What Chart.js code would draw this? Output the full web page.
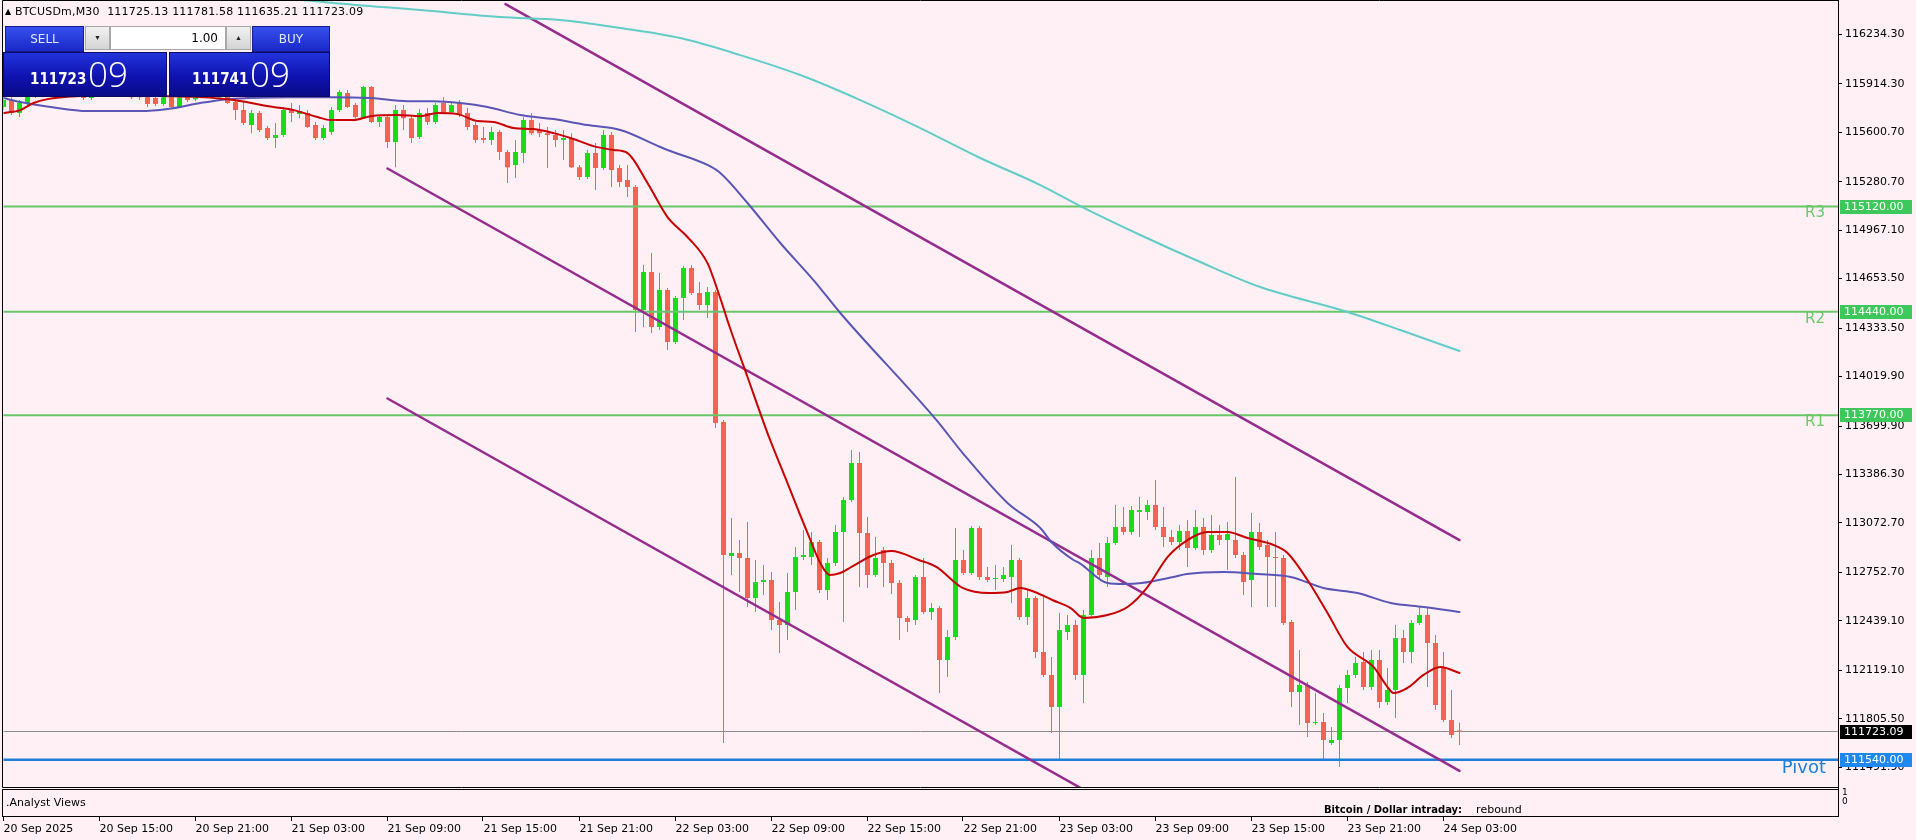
<!DOCTYPE html>
<html><head><meta charset="utf-8">
<script src="https://cdn.jsdelivr.net/npm/chart.js@4.4.1/dist/chart.umd.min.js"></script>
<style>
html,body{margin:0;padding:0;background:#FFF0F5;overflow:hidden;}
#wrap{position:relative;width:1916px;height:840px;}
#c{position:absolute;left:0;top:0;}
#hdr{position:absolute;left:5px;top:5px;font:11px 'DejaVu Sans',sans-serif;color:#000;white-space:pre;line-height:14px;letter-spacing:0.2px;}
#hdr .tri{font-size:8px;vertical-align:1px;}
.p{position:absolute;box-sizing:border-box;}
.btn{background:linear-gradient(#3550ee,#1b28c8);color:#dfe8ff;font:12px 'DejaVu Sans',sans-serif;text-align:center;line-height:25px;border:1px solid #1a1a90;}
.spin{background:linear-gradient(#f2f2f2,#d4d4d4);border:1px solid #a8a8a8;font-size:7px;text-align:center;line-height:22px;color:#222;}
.lot{background:#fff;border:1px solid #a8a8a8;font:12px 'DejaVu Sans',sans-serif;text-align:right;padding-right:7px;line-height:22px;color:#000;}
.pbox{background:linear-gradient(#2233dc,#0f12b0 55%,#0a0a86);border:1px solid #0a0a60;color:#fff;}
.pbox .s{position:absolute;bottom:8px;font:bold 15px 'DejaVu Sans Condensed','DejaVu Sans',sans-serif;}
.pbox .b{position:absolute;bottom:5px;font:300 35px 'Open Sans',sans-serif;line-height:35px;}
</style></head>
<body><div id="wrap">
<canvas id="c" width="1916" height="840"></canvas>
<div id="hdr"><span class="tri">▲</span> BTCUSDm,M30  111725.13 111781.58 111635.21 111723.09</div>
<div class="p btn" style="left:5px;top:26px;width:79px;height:26px;">SELL</div>
<div class="p spin" style="left:85px;top:26px;width:25px;height:24px;">▼</div>
<div class="p lot" style="left:110px;top:26px;width:116px;height:24px;">1.00</div>
<div class="p spin" style="left:226px;top:26px;width:25px;height:24px;">▲</div>
<div class="p btn" style="left:252px;top:26px;width:78px;height:26px;">BUY</div>
<div class="p pbox" style="left:3px;top:52px;width:164px;height:45px;"><span class="s" style="left:26px;">111723</span><span class="b" style="left:84px;">09</span></div>
<div class="p pbox" style="left:169px;top:52px;width:161px;height:45px;"><span class="s" style="left:22px;">111741</span><span class="b" style="left:80px;">09</span></div>
</div>
<script>
// ---- data (M30 bars, bar 0 = 20 Sep 09:00) ----
const timeLabels = ['20 Sep 2025','20 Sep 15:00','20 Sep 21:00','21 Sep 03:00','21 Sep 09:00','21 Sep 15:00','21 Sep 21:00','22 Sep 03:00','22 Sep 09:00','22 Sep 15:00','22 Sep 21:00','23 Sep 03:00','23 Sep 09:00','23 Sep 15:00','23 Sep 21:00','24 Sep 03:00'];
const timeTickBars = [0,12,24,36,48,60,72,84,96,108,120,132,144,156,168,180];
const priceTicks = [116234.30,115914.30,115600.70,115280.70,114967.10,114653.50,114333.50,114019.90,113699.90,113386.30,113072.70,112752.70,112439.10,112119.10,111805.50,111491.90];

const opens = [115764,115809,115725,115790,115835,115874,115841,115887,115854,115900,115848,115822,115874,115900,115854,115900,115861,115828,115835,115822,115783,115828,115764,115841,115815,115841,115874,115828,115835,115796,115744,115647,115725,115628,115563,115583,115751,115718,115725,115647,115563,115602,115744,115854,115777,115699,115893,115667,115699,115537,115744,115692,115570,115725,115667,115790,115731,115790,115725,115647,115563,115550,115602,115473,115388,115466,115680,115615,115595,115583,115550,115563,115375,115311,115466,115369,115583,115369,115291,115246,114450,114696,114340,114580,114243,114528,114722,114560,114483,114567,113726,112859,112878,112846,112587,112690,112703,112445,112412,112626,112852,112852,112949,112639,112813,113014,113221,113460,113008,112736,112898,112813,112684,112458,112445,112723,112496,112522,112186,112335,112833,112749,113040,112723,112710,112710,112723,112833,112464,112587,112238,112089,111882,112367,112412,112089,112477,112846,112723,112943,113046,113014,113143,113143,113189,113046,112982,112949,113020,112910,113046,112898,112995,112962,112962,112865,112703,113014,112930,112852,112846,112432,111979,112024,111778,111785,111649,111668,112005,112089,112173,112011,112186,111914,111992,112328,112238,112425,112477,112296,112134,111798,111725.13];
const highs = [115822,115828,115809,115861,115887,115900,115900,115900,115912,115912,115861,115887,115912,115912,115912,115912,115874,115861,115848,115841,115841,115841,115841,115854,115861,115887,115887,115874,115854,115822,115796,115744,115738,115641,115660,115764,115790,115777,115744,115667,115647,115764,115874,115874,115790,115900,115900,115712,115712,115777,115777,115705,115751,115757,115790,115828,115796,115809,115757,115667,115634,115634,115615,115486,115550,115699,115725,115660,115634,115615,115615,115595,115388,115486,115531,115615,115602,115388,115388,115259,114741,114819,114690,114593,114541,114735,114741,114631,114599,114580,113739,113105,112962,113079,112833,112800,112755,112561,112749,112917,113027,113014,112962,112846,113059,113240,113544,113532,113111,112982,112917,112833,112703,112470,112736,112846,112555,112535,112380,113040,112898,113053,113053,112788,112800,112788,112930,112846,112639,112600,112593,112205,112490,112477,112445,112509,112898,112943,112982,113189,113176,113182,113240,113221,113350,113176,113027,113059,113092,113156,113105,113124,113059,113079,113370,112885,113137,113072,112962,113014,112865,112445,112251,112043,111972,111843,111752,112024,112121,112205,112238,112251,112251,112134,112412,112380,112445,112529,112529,112348,112238,111992,111781.58];
const lows = [115744,115712,115699,115777,115822,115828,115828,115841,115841,115835,115809,115809,115861,115841,115841,115848,115815,115809,115764,115770,115770,115757,115757,115796,115802,115828,115822,115815,115783,115680,115647,115595,115602,115550,115498,115570,115667,115692,115628,115550,115550,115583,115731,115757,115692,115692,115660,115634,115498,115375,115615,115531,115557,115647,115654,115718,115718,115699,115615,115531,115531,115518,115421,115272,115304,115401,115583,115570,115369,115505,115421,115369,115291,115298,115227,115356,115246,115246,115181,114308,114340,114301,114321,114191,114230,114386,114547,114450,114399,113687,111649,112736,112626,112529,112496,112606,112380,112231,112315,112509,112833,112800,112619,112574,112794,112432,113208,112658,112652,112723,112658,112613,112315,112367,112412,112483,112445,111972,112076,112315,112736,112736,112703,112690,112639,112690,112555,112445,112412,112199,112076,111714,111539,112315,112056,111908,112458,112703,112658,112930,112995,112995,112982,113092,113027,112917,112930,112898,112788,112898,112865,112878,112930,112768,112846,112606,112529,112898,112529,112529,112412,111882,111765,111688,111765,111539,111636,111494,111908,112069,111992,111992,111875,111895,111811,112166,112166,112412,112011,111862,111785,111681,111635.21];
const closes = [115809,115725,115790,115841,115874,115841,115887,115854,115900,115848,115822,115874,115900,115854,115900,115861,115828,115848,115783,115783,115828,115764,115828,115809,115848,115874,115835,115861,115790,115744,115660,115725,115615,115563,115583,115744,115725,115738,115634,115563,115628,115744,115861,115764,115699,115893,115667,115699,115537,115744,115692,115563,115725,115667,115777,115731,115777,115712,115634,115550,115550,115602,115473,115375,115473,115680,115595,115595,115583,115550,115563,115375,115311,115466,115369,115583,115356,115278,115246,114450,114696,114340,114580,114243,114528,114722,114560,114483,114567,113719,112865,112878,112846,112587,112690,112703,112445,112412,112626,112852,112865,112949,112639,112813,113014,113221,113460,113008,112736,112846,112813,112684,112458,112432,112723,112496,112522,112186,112335,112833,112749,113040,112723,112703,112716,112736,112833,112464,112587,112238,112089,111882,112380,112412,112089,112477,112846,112736,112943,113046,113014,113156,113156,113189,113046,112982,112949,113020,112910,113046,112898,112995,112962,113001,112865,112690,113014,112917,112852,112846,112425,111979,112024,111778,111785,111668,111668,112005,112089,112166,112011,112186,111914,111992,112328,112238,112425,112477,112296,111895,111798,111701,111723.09];

// moving averages: bar positions and prices
const redMaBars   = [0,2.1,3.75,5.5,9.6,14.6,19.6,24.6,28.75,33.75,36.25,39.25,40.9,43.75,45.9,49.25,52.1,54.25,56.75,59.25,61.25,63.75,66.25,68.75,71.25,73.75,76.25,78,80.5,83,85.5,88,89.25,90.9,93,95.5,98,100.5,102.1,103.25,104.6,106,108.75,111,114.4,116.6,119.9,123.25,125.5,127.1,128.9,131.1,133.4,135,138,140.5,143,145.5,148,150.5,153,155.5,158.75,160.5,163,165.5,168,171.25,173,173.75,175.5,177.5,179.6,182];
const redMaPrices = [115725,115744,115790,115815,115835,115841,115835,115828,115809,115764,115744,115699,115680,115680,115705,115712,115705,115725,115718,115673,115667,115628,115621,115595,115557,115511,115486,115466,115272,115052,114923,114754,114580,114321,114017,113654,113331,113008,112813,112736,112749,112788,112865,112891,112833,112788,112652,112619,112626,112652,112626,112574,112522,112458,112477,112529,112658,112852,112962,113014,113014,112975,112930,112878,112703,112490,112270,112141,112011,111972,112005,112089,112141,112102];
const blueMaBars   = [0,2.1,5.9,10.5,14.25,17.1,20.5,24.6,28,30.5,35.9,40.9,45.9,50.5,53.75,57.1,60.5,64.6,68.75,73,77.1,82.1,83,88,89.6,93,97.1,101.25,104.6,116.6,119.9,125.5,129.6,131.1,133.75,134.5,138,140,142.25,146.25,147.9,152.5,156.75,160.9,165,169.25,173.4,177.5,182];
const blueMaPrices = [115822,115796,115764,115738,115738,115738,115751,115790,115815,115822,115828,115828,115822,115802,115802,115790,115764,115712,115686,115647,115615,115505,115486,115389,115337,115143,114884,114644,114431,113739,113525,113202,113040,112943,112833,112813,112684,112678,112684,112723,112742,112755,112742,112723,112652,112619,112555,112529,112496];
const tealMaBars   = [35,41.25,52.1,62.1,69.6,77.1,84.6,92.1,99.6,107.1,114.6,122.1,129.6,134.6,142.1,149.6,157.1,167.6,174.6,182];
const tealMaPrices = [116470,116437,116391,116346,116327,116275,116210,116100,115971,115809,115628,115434,115259,115123,114936,114761,114599,114444,114321,114185];

// trend channel end points [bar, price]
const channelUpper  = [[62.75,116430],[182,112962]];
const channelMiddle = [[48,115366],[182,111468]];
const channelLower  = [[48,113878],[182,109980]];

// horizontal levels
const levelNames  = ['R3','R2','R1','Pivot'];
const levelPrices = [115120.00,114440.00,113770.00,111540.00];
const lastPrice = 111723.09;

// ---- styles ----
const BG = '#FFF0F5';
const UP = '#18DC18', DN = '#F2644E';
const LEVEL_GREEN = '#68C868', PIVOT_BLUE = '#1E7FDA', CHANNEL = '#962C8E';
const XMAX = (1838 - 3.5) / 8;

const idx = opens.map((_, i) => i);
const candleColor = ctx => (closes[ctx.dataIndex] >= opens[ctx.dataIndex] ? UP : DN);
const pts = (bars, prices) => bars.map((b, k) => ({x: b, y: prices[k]}));
const seg = arr => arr.map(p => ({x: p[0], y: p[1]}));
const hline = v => [{x: -1, y: v}, {x: XMAX + 1, y: v}];

const lineBase = {type: 'line', pointRadius: 0, fill: false, borderCapStyle: 'round'};
const datasets = [
  Object.assign({}, lineBase, {data: hline(lastPrice), borderColor: '#8c8c8c', borderWidth: 1, order: 30}),
  Object.assign({}, lineBase, {data: hline(levelPrices[0]), borderColor: LEVEL_GREEN, borderWidth: 2, order: 3}),
  Object.assign({}, lineBase, {data: hline(levelPrices[1]), borderColor: LEVEL_GREEN, borderWidth: 2, order: 3}),
  Object.assign({}, lineBase, {data: hline(levelPrices[2]), borderColor: LEVEL_GREEN, borderWidth: 2, order: 3}),
  Object.assign({}, lineBase, {data: hline(levelPrices[3]), borderColor: PIVOT_BLUE, borderWidth: 2.5, order: 3}),
  Object.assign({}, lineBase, {data: seg(channelUpper), borderColor: CHANNEL, borderWidth: 2.5, order: 2}),
  Object.assign({}, lineBase, {data: seg(channelMiddle), borderColor: CHANNEL, borderWidth: 2.5, order: 2}),
  Object.assign({}, lineBase, {data: seg(channelLower), borderColor: CHANNEL, borderWidth: 2.5, order: 2}),
  Object.assign({}, lineBase, {data: pts(tealMaBars, tealMaPrices), borderColor: '#62CDC6', borderWidth: 2, cubicInterpolationMode: 'monotone', order: 1}),
  Object.assign({}, lineBase, {data: pts(blueMaBars, blueMaPrices), borderColor: '#5B55B6', borderWidth: 2, cubicInterpolationMode: 'monotone', order: 1}),
  Object.assign({}, lineBase, {data: pts(redMaBars, redMaPrices), borderColor: '#C80000', borderWidth: 2, cubicInterpolationMode: 'monotone', order: 0}),
  {type: 'bar', data: idx.map(i => ({x: i, y: [lows[i], highs[i]]})), backgroundColor: candleColor, barThickness: 1, grouped: false, inflateAmount: 0, borderWidth: 0, order: 21},
  {type: 'bar', data: idx.map(i => ({x: i, y: [opens[i], closes[i]]})), backgroundColor: candleColor, barThickness: 5, grouped: false, inflateAmount: 0, borderWidth: 0, minBarLength: 1, order: 20}
];

const FONT = "'DejaVu Sans', sans-serif";
const noPad = s => { s.paddingLeft = 0; s.paddingRight = 0; s.paddingTop = 0; s.paddingBottom = 0; };
const overlay = {
  id: 'overlay',
  beforeDraw(chart) {
    const c = chart.ctx;
    c.save(); c.fillStyle = BG; c.fillRect(0, 0, chart.width, chart.height); c.restore();
  },
  afterDraw(chart) {
    const c = chart.ctx, ys = chart.scales.y, xs = chart.scales.x;
    c.save();
    // frames
    c.strokeStyle = '#000'; c.lineWidth = 1;
    c.beginPath();
    c.moveTo(2.5, 0.5); c.lineTo(1838.5, 0.5);
    c.moveTo(2.5, 0.5); c.lineTo(2.5, 787.5);
    c.moveTo(2.5, 787.5); c.lineTo(1838.5, 787.5);
    c.moveTo(1838.5, 0); c.lineTo(1838.5, 817);
    c.stroke();
    c.strokeRect(2.5, 789.5, 1836, 27);
    // time tick marks under sub-window
    c.beginPath();
    timeTickBars.forEach(b => { const px = Math.round(xs.getPixelForValue(b)) - 0.5; c.moveTo(px, 817); c.lineTo(px, 821); });
    c.stroke();
    // sub window texts
    c.fillStyle = '#000'; c.textBaseline = 'middle'; c.textAlign = 'left';
    c.font = '11px ' + FONT; c.fillText('.Analyst Views', 6, 803);
    c.font = 'bold 10px ' + FONT; c.fillText('Bitcoin / Dollar intraday:', 1324, 810);
    const w = c.measureText('Bitcoin / Dollar intraday:').width;
    c.font = '11px ' + FONT; c.fillText('rebound', 1324 + w + 14, 810);
    c.font = '9px ' + FONT; c.fillText('1', 1842, 793); c.fillText('0', 1842, 802);
    // level names inside plot
    c.textAlign = 'right';
    levelNames.forEach((n, k) => {
      const py = ys.getPixelForValue(levelPrices[k]);
      if (n === 'Pivot') { c.fillStyle = PIVOT_BLUE; c.font = '18px ' + FONT; c.fillText(n, 1826, py + 9); }
      else { c.fillStyle = LEVEL_GREEN; c.font = '15px ' + FONT; c.fillText(n, 1825, py + 7); }
    });
    // value boxes on the price axis
    const box = (v, bg) => {
      const py = Math.round(ys.getPixelForValue(v));
      c.fillStyle = bg; c.fillRect(1840, py - 7, 72, 14);
      c.fillStyle = '#fff'; c.textAlign = 'left'; c.font = '11px ' + FONT;
      c.fillText(v.toFixed(2), 1844, py);
    };
    box(levelPrices[0], '#3CC85A'); box(levelPrices[1], '#3CC85A'); box(levelPrices[2], '#3CC85A');
    box(lastPrice, '#000000'); box(levelPrices[3], '#1E88F0');
    c.restore();
  }
};

new Chart(document.getElementById('c'), {
  type: 'bar',
  data: {datasets},
  options: {
    responsive: false, animation: false, events: [],
    layout: {padding: {left: 3.5, top: 1, right: 0, bottom: 0}},
    plugins: {legend: {display: false}, tooltip: {enabled: false}},
    scales: {
      x: {
        type: 'linear', min: 0, max: XMAX, offset: false,
        grid: {display: false, offset: false}, border: {display: false},
        afterBuildTicks: s => { s.ticks = timeTickBars.map(v => ({value: v})); },
        afterFit: s => { s.height = 53; noPad(s); },
        ticks: {autoSkip: false, maxRotation: 0, minRotation: 0, align: 'start', padding: 28, color: '#000',
          font: {family: FONT, size: 11},
          callback: v => timeLabels[timeTickBars.indexOf(v)]}
      },
      y: {
        type: 'linear', position: 'right', min: 111364, max: 116450,
        grid: {drawOnChartArea: false, drawTicks: true, tickLength: 4, color: '#000'},
        border: {display: true, color: '#000'},
        afterBuildTicks: s => { s.ticks = priceTicks.map(v => ({value: v})); },
        afterFit: s => { s.width = 78; noPad(s); },
        ticks: {autoSkip: false, padding: 3, color: '#000', font: {family: FONT, size: 11},
          callback: v => Number(v).toFixed(2)}
      }
    }
  },
  plugins: [overlay]
});
</script>
</body></html>
